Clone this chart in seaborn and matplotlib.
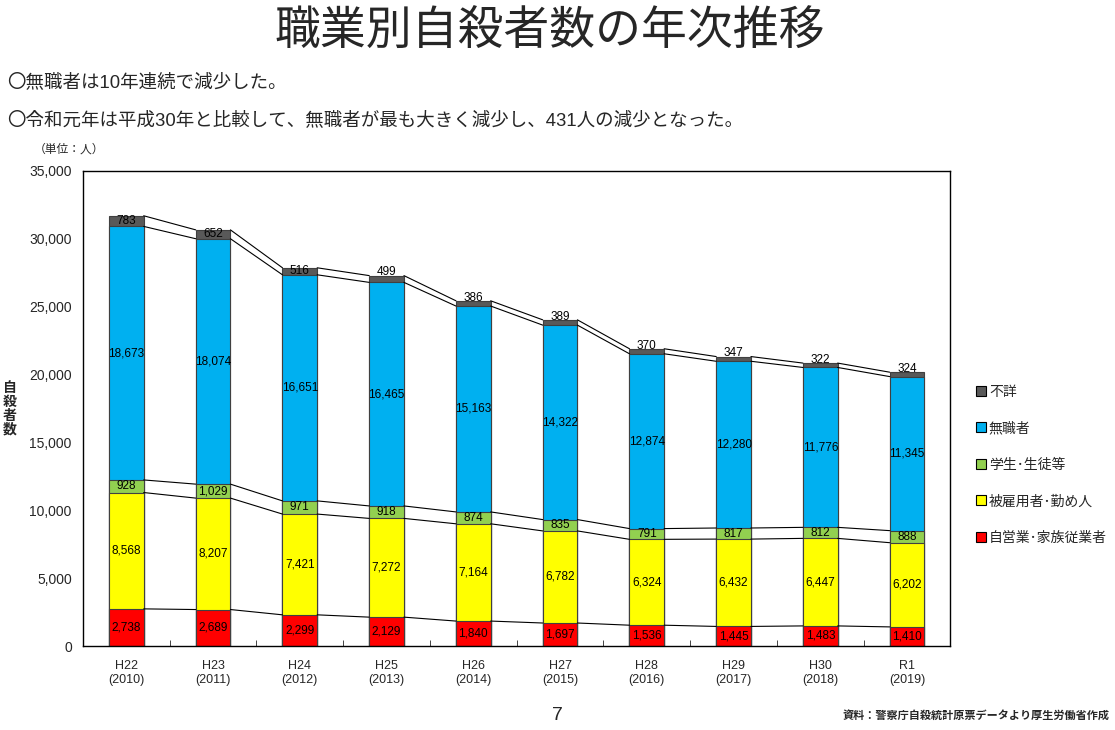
import numpy as np
import pandas as pd
import matplotlib
matplotlib.use("Agg")
import matplotlib.pyplot as plt
import seaborn as sns

# データ（単位：人）
years = ["H22\n(2010)", "H23\n(2011)", "H24\n(2012)", "H25\n(2013)", "H26\n(2014)",
         "H27\n(2015)", "H28\n(2016)", "H29\n(2017)", "H30\n(2018)", "R1\n(2019)"]
self_emp = [2738, 2689, 2299, 2129, 1840, 1697, 1536, 1445, 1483, 1410]
employed = [8568, 8207, 7421, 7272, 7164, 6782, 6324, 6432, 6447, 6202]
student = [928, 1029, 971, 918, 874, 835, 791, 817, 812, 888]
unemployed = [18673, 18074, 16651, 16465, 15163, 14322, 12874, 12280, 11776, 11345]
unknown = [783, 652, 516, 499, 386, 389, 370, 347, 322, 324]

names = ["自営業･家族従業者", "被雇用者･勤め人", "学生･生徒等", "無職者", "不詳"]
colors = ["#FF0000", "#FFFF00", "#92D050", "#00B0F0", "#595959"]
series = [self_emp, employed, student, unemployed, unknown]

sns.set_style("white")
plt.rcParams['font.family'] = ['Liberation Sans', 'Noto Sans CJK JP']

df = pd.DataFrame({"year": years})
cum = np.cumsum(np.array(series), axis=0)  # 積み上げ値
for k, n in enumerate(names):
    df[n] = cum[k]

fig = plt.figure(figsize=(11.15, 7.3), dpi=100)
ax = fig.add_axes([0.0744, 0.115, 0.778, 0.651])
w = 0.40

# 上の系列から順に累積値を描く（積み上げ棒）
for k in range(len(names) - 1, -1, -1):
    sns.barplot(data=df, x="year", y=names[k], color=colors[k], width=w,
                edgecolor="#404040", linewidth=0.8, saturation=1, ax=ax)

# 系列線
xs = np.arange(len(years))
for k in range(len(names)):
    for i in range(len(years) - 1):
        ax.plot([xs[i] + w / 2, xs[i + 1] - w / 2], [cum[k][i], cum[k][i + 1]],
                color="black", lw=0.8, zorder=1)

# データラベル
for k in range(len(names)):
    for i in range(len(years)):
        v = series[k][i]
        bottom = cum[k][i] - v
        if k == 4 and v < 500:
            y = cum[k][i] + 230
        else:
            y = bottom + v / 2
        ax.text(xs[i], y, f"{v:,}", ha="center", va="center", fontsize=8.5,
                color="black", zorder=5)

ax.set_xlim(-0.5, len(years) - 0.5)
ax.set_ylim(0, 35000)
ax.set_yticks(range(0, 35001, 5000))
ax.set_yticklabels([f"{t:,}" for t in range(0, 35001, 5000)], fontsize=10)
ax.set_xticks(xs)
ax.set_xticklabels(years, fontsize=9)
ax.set_xticks(np.arange(0.5, len(years) - 1, 1), minor=True)
ax.tick_params(axis="x", which="major", length=0, pad=10)
ax.tick_params(axis="x", which="minor", length=4, direction="in", bottom=True)
ax.tick_params(axis="y", length=0, pad=8)
ax.set_xlabel("")
ax.set_ylabel("")
for s in ax.spines.values():
    s.set_color("black")
    s.set_linewidth(1.0)

# 凡例
handles = [plt.Line2D([], [], marker="s", ls="", markersize=7, markerfacecolor=colors[k],
                      markeredgecolor="black", markeredgewidth=0.8) for k in range(4, -1, -1)]
fig.legend(handles, [names[k] for k in range(4, -1, -1)], loc="upper left",
           bbox_to_anchor=(0.862, 0.49), frameon=False, fontsize=10,
           handletextpad=0.1, labelspacing=1.62, handlelength=1.0)

# テキスト
fig.text(0.493, 0.955, "職業別自殺者数の年次推移", ha="center", va="center",
         fontsize=33, fontweight="normal")
fig.text(0.006, 0.887, "〇無職者は10年連続で減少した。", ha="left", va="center",
         fontsize=13.3)
fig.text(0.006, 0.835, "〇令和元年は平成30年と比較して、無職者が最も大きく減少し、431人の減少となった。",
         ha="left", va="center", fontsize=13.3)
fig.text(0.03, 0.795, "（単位：人）", ha="left", va="center", fontsize=8.5)
fig.text(0.009, 0.44, "自\n殺\n者\n数", ha="center", va="center", fontsize=10,
         fontweight="bold", linespacing=1.0)
fig.text(0.5, 0.02, "7", ha="center", va="center", fontsize=14)
fig.text(0.995, 0.02, "資料：警察庁自殺統計原票データより厚生労働省作成", ha="right",
         va="center", fontsize=8, fontweight="bold")

fig.savefig("out.png", dpi=100)
